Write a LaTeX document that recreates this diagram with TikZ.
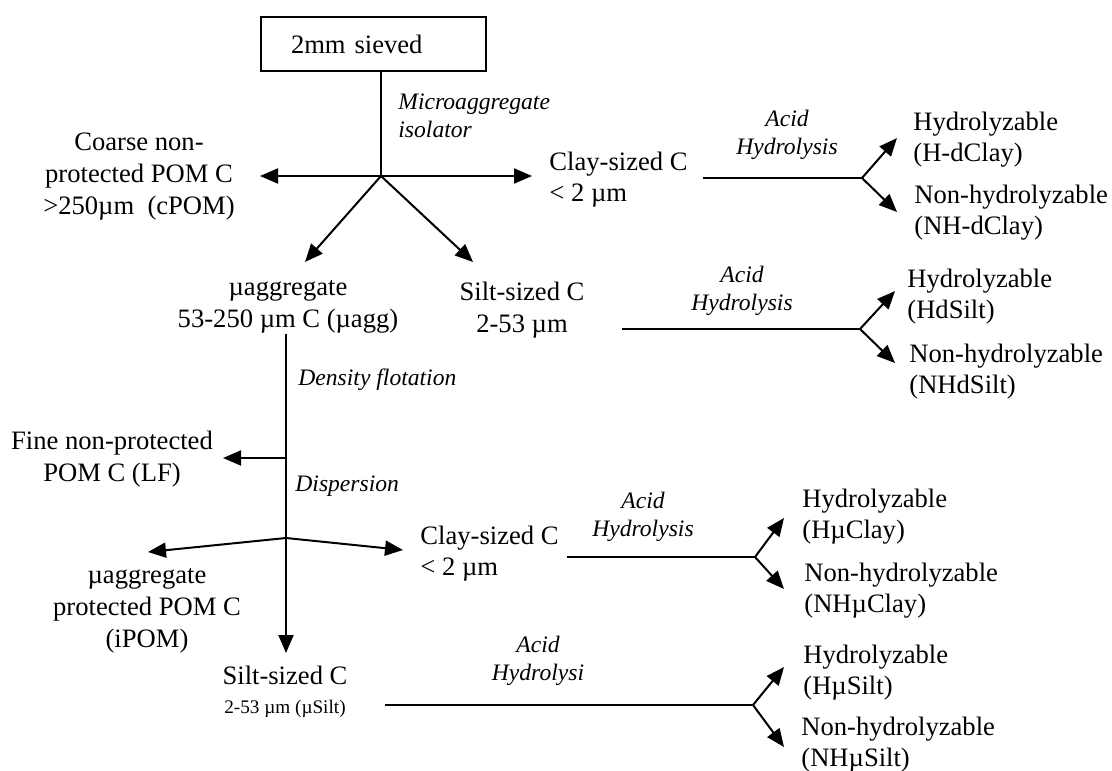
\documentclass[tikz,border=0pt]{standalone}
\usepackage{fontspec}
\setmainfont{Liberation Serif}
\usetikzlibrary{arrows.meta}
\begin{document}
\begin{tikzpicture}[
  x=0.5pt, y=-0.5pt,
  fraction/.style={inner sep=0pt, font=\fontsize{13.3}{16}\selectfont, align=center},
  product/.style={inner sep=0pt, font=\fontsize{13.3}{15.5}\selectfont, align=left, anchor=west},
  method/.style={inner sep=0pt, font=\fontsize{11.8}{14}\selectfont\itshape, align=center},
  sievebox/.style={draw, line width=0.8pt, minimum width=112.5pt, minimum height=27pt, inner xsep=15pt, text width=82.5pt, align=left, font=\fontsize{13.3}{16}\selectfont},
  flow/.style={line width=1pt},
  split/.style={flow, -{Triangle[length=9pt,width=7.5pt]}},
]
  \useasboundingbox (0,0) rectangle (1112,770);

  \node[sievebox] (sieve) at (373.5,44) {2mm sieved};
  \node[method, align=left, anchor=west] (isolator) at (398,116) {Microaggregate\\isolator};
  \node[fraction] (cpom) at (139,177) {Coarse non-\\protected POM C\\>250µm\ \ (cPOM)};
  \node[product] (dclay) at (549,180) {Clay-sized C\\< 2 µm};
  \node[fraction] (uagg) at (288,307) {µaggregate\\53-250 µm C (µagg)};
  \node[fraction] (dsilt) at (522,310) {Silt-sized C\\2-53 µm};

  \coordinate (j1) at (381,176);
  \coordinate (cpomtip) at (260,176);
  \coordinate (dclaytip) at (532,176);
  \coordinate (uaggtip) at (305,262);
  \coordinate (dsilttip) at (473,262);

  \draw[flow] (sieve.south -| j1) -- (j1);
  \draw[split] (j1) -- (cpomtip);
  \draw[split] (j1) -- (dclaytip);
  \draw[split] (j1) -- (uaggtip);
  \draw[split] (j1) -- (dsilttip);

  \node[method] (acid1) at (787,135) {Acid\\Hydrolysis};
  \node[product] (hdclay) at (913,140) {Hydrolyzable\\(H-dClay)};
  \node[product] (nhdclay) at (914,213) {Non-hydrolyzable\\(NH-dClay)};
  \coordinate (f1s) at (703,178);
  \coordinate (f1) at (862,178);
  \coordinate (f1u) at (897,138);
  \coordinate (f1d) at (897,212);
  \draw[flow] (f1s) -- (f1);
  \draw[split] (f1) -- (f1u);
  \draw[split] (f1) -- (f1d);

  \node[method] (acid2) at (742,291) {Acid\\Hydrolysis};
  \node[product] (hdsilt) at (907,297) {Hydrolyzable\\(HdSilt)};
  \node[product] (nhdsilt) at (909,372) {Non-hydrolyzable\\(NHdSilt)};
  \coordinate (f2s) at (622,329);
  \coordinate (f2) at (860,329);
  \coordinate (f2u) at (895,291);
  \coordinate (f2d) at (895,363);
  \draw[flow] (f2s) -- (f2);
  \draw[split] (f2) -- (f2u);
  \draw[split] (f2) -- (f2d);

  \node[method, anchor=west] (density) at (298,380) {Density flotation};
  \node[fraction] (lf) at (112,459) {Fine non-protected\\POM C (LF)};
  \node[method, anchor=west] (dispersion) at (295,486) {Dispersion};
  \node[fraction] (ipom) at (147,611) {µaggregate\\protected POM C\\(iPOM)};
  \node[product] (uclay) at (420,554) {Clay-sized C\\< 2 µm};
  \node[fraction] (usilt) at (285,692) {Silt-sized C\\[-1.5pt]{\fontsize{9.6}{11}\selectfont 2-53 µm (µSilt)}};

  \coordinate (j2) at (286,458);
  \coordinate (j3) at (286,538);
  \coordinate (lftip) at (223,458);
  \coordinate (ipomtip) at (148,552);
  \coordinate (uclaytip) at (403,550);
  \coordinate (usilttip) at (286,653);

  \draw[split] (uagg.south -| j3) -- (usilttip);
  \draw[split] (j2) -- (lftip);
  \draw[split] (j3) -- (ipomtip);
  \draw[split] (j3) -- (uclaytip);

  \node[method] (acid3) at (643,517) {Acid\\Hydrolysis};
  \node[product] (huclay) at (802,517) {Hydrolyzable\\(HµClay)};
  \node[product] (nhuclay) at (804,591) {Non-hydrolyzable\\(NHµClay)};
  \coordinate (f3s) at (567,557);
  \coordinate (f3) at (755,557);
  \coordinate (f3u) at (784,518);
  \coordinate (f3d) at (784,589);
  \draw[flow] (f3s) -- (f3);
  \draw[split] (f3) -- (f3u);
  \draw[split] (f3) -- (f3d);

  \node[method] (acid4) at (538,661) {Acid\\Hydrolysi};
  \node[product] (husilt) at (803,673) {Hydrolyzable\\(HµSilt)};
  \node[product] (nhusilt) at (801,745) {Non-hydrolyzable\\(NHµSilt)};
  \coordinate (f4s) at (385,705);
  \coordinate (f4) at (753,705);
  \coordinate (f4u) at (784,667);
  \coordinate (f4d) at (784,747);
  \draw[flow] (f4s) -- (f4);
  \draw[split] (f4) -- (f4u);
  \draw[split] (f4) -- (f4d);
\end{tikzpicture}
\end{document}
